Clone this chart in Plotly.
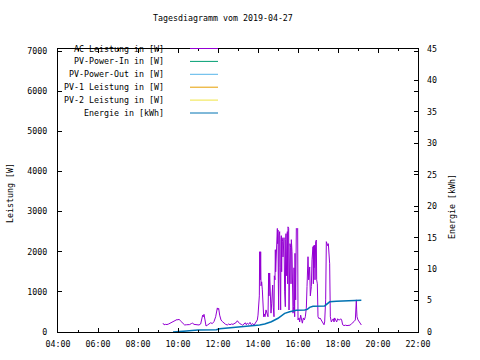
import plotly.graph_objects as go

DAY = "2019-04-27 "

# AC Leistung [W]
ac_times = ["09:15","09:18","09:22","09:27","09:32","09:37","09:42","09:47","09:52","09:57",
            "10:00","10:03","10:07","10:12","10:16","10:20","10:25","10:30","10:35","10:40",
            "10:44","10:48","10:53","10:58","11:03","11:08","11:11","11:14","11:16","11:18",
            "11:21","11:24","11:28","11:33","11:38","11:43","11:48","11:53","11:56","11:58",
            "12:00","12:02","12:05","12:09","12:13","12:18","12:23","12:28","12:32","12:36",
            "12:40","12:45","12:50","12:55","12:58","13:01","13:05","13:10","13:14","13:18",
            "13:22","13:25","13:28","13:32","13:36","13:40","13:44","13:48","13:52","13:55",
            "13:58","14:00","14:02","14:04","14:05","14:06","14:07","14:08","14:09","14:11",
            "14:13","14:15","14:17","14:19","14:21","14:24","14:27","14:30","14:32","14:33",
            "14:35","14:37","14:39","14:41","14:42","14:44","14:46","14:48","14:49","14:50",
            "14:51","14:52","14:53","14:55","14:56","14:58","14:59","15:00","15:01","15:02",
            "15:03","15:05","15:06","15:08","15:09","15:10","15:11","15:12","15:14","15:15",
            "15:16","15:18","15:20","15:22","15:23","15:24","15:25","15:26","15:28","15:29",
            "15:30","15:31","15:32","15:33","15:35","15:36","15:38","15:39","15:40","15:42",
            "15:44","15:45","15:47","15:48","15:50","15:51","15:53","15:55","15:57","15:59",
            "16:00","16:03","16:05","16:08","16:10","16:13","16:16","16:19","16:22","16:25",
            "16:27","16:29","16:30","16:32","16:35","16:37","16:40","16:42","16:44","16:45",
            "16:46","16:47","16:48","16:50","16:51","16:53","16:55","16:56","16:58","17:00",
            "17:03","17:06","17:09","17:12","17:15","17:18","17:20","17:23","17:25","17:27",
            "17:29","17:31","17:33","17:35","17:37","17:40","17:43","17:46","17:48","17:50",
            "17:53","17:56","17:59","18:02","18:05","18:08","18:11","18:14","18:18","18:22",
            "18:27","18:32","18:36","18:40","18:44","18:48","18:52","18:54","18:55","18:56",
            "18:57","19:00","19:03","19:06","19:10"]
ac_values = [220,180,190,185,200,220,240,260,290,310,
             300,320,280,230,190,175,180,175,185,210,
             220,190,180,170,175,200,330,420,380,440,
             300,150,170,190,230,210,260,380,520,600,
             560,590,420,300,260,220,190,175,200,180,
             200,190,210,240,280,250,210,190,170,200,
             230,180,220,190,240,180,210,170,220,250,
             300,420,620,900,2000,1750,1300,2000,1150,1250,
             1050,550,380,450,380,550,460,380,1470,900,
             1470,800,470,700,1170,1170,600,380,1400,2000,
             1300,2050,1500,2000,2300,2580,2200,2540,1200,550,
             2400,2500,1600,550,2300,2400,1500,2350,2250,1870,
             2300,2350,1000,630,2300,2450,1400,2400,2500,1200,
             2620,2600,2580,548,1800,2200,2100,1200,2300,2000,
             1000,470,630,1600,380,1960,800,2580,2560,2580,
             300,350,250,420,300,220,350,300,380,600,
             1130,1500,1875,1300,1620,900,1130,1800,2100,2125,
             1200,2150,1600,2165,1300,2250,2290,1300,1200,380,
             330,350,300,250,200,180,250,800,2250,2200,
             2150,2200,1710,1700,380,250,300,330,250,350,
             300,250,330,300,300,330,300,180,160,170,
             160,165,170,200,225,260,300,500,800,550,
             380,300,250,225,175]

# Energie [kWh]
en_times = ["09:45","10:20","10:25","11:00","11:55","12:05","12:25","13:05","13:45","14:05",
            "14:20","14:40","15:00","15:20","15:35","15:50","15:55","16:20","16:28","16:35",
            "16:45","17:20","17:25","17:35","17:55","18:30","19:10"]
en_values = [0.0,0.05,0.15,0.3,0.35,0.5,0.6,0.75,0.95,1.1,
             1.27,1.64,2.18,2.97,3.23,3.39,3.45,3.5,3.6,3.92,
             4.1,4.15,4.4,4.8,4.9,5.0,5.05]

# series without data on this day
pv_in_times, pv_in_values = [], []
pv_out_times, pv_out_values = [], []
pv1_times, pv1_values = [], []
pv2_times, pv2_values = [], []

series_names = ["AC Leistung in [W]", "PV-Power-In in [W]", "PV-Power-Out in [W]",
                "PV-1 Leistung in [W]", "PV-2 Leistung in [W]", "Energie in [kWh]"]
series_colors = ["#9400d3", "#009e73", "#56b4e9", "#e69f00", "#f0e442", "#0072b2"]

left_ticks = [0, 1000, 2000, 3000, 4000, 5000, 6000, 7000]
right_ticks = [0, 5, 10, 15, 20, 25, 30, 35, 40, 45]
x_ticks = ["04:00", "06:00", "08:00", "10:00", "12:00", "14:00", "16:00", "18:00", "20:00", "22:00"]

FONT = "DejaVu Sans Mono"
FS = 8.3

def ts(lst):
    return [DAY + t for t in lst]

fig = go.Figure()
data_sets = [(ac_times, ac_values, "y"), (pv_in_times, pv_in_values, "y"),
             (pv_out_times, pv_out_values, "y"), (pv1_times, pv1_values, "y"),
             (pv2_times, pv2_values, "y"), (en_times, en_values, "y2")]
for (tt, vv, ax), name, col in zip(data_sets, series_names, series_colors):
    fig.add_trace(go.Scatter(x=ts(tt), y=vv, mode="lines", name=name, yaxis=ax,
                             line=dict(color=col, width=1.5 if ax == "y2" else 1),
                             showlegend=False))

W, H = 480, 360
X0, X1, Y0, Y1 = 58, 418, 49, 332   # plot area in pixels
L, R, T, B = X0, W - X1, Y0, H - Y1
pw, ph = X1 - X0, Y1 - Y0

def px(x):
    return (x - X0) / pw

def py(y):
    return (Y1 - y) / ph

fig.update_layout(
    width=W, height=H,
    margin=dict(l=L, r=R, t=T, b=B, autoexpand=False),
    paper_bgcolor="white", plot_bgcolor="white",
    font=dict(family=FONT, size=FS, color="black"),
    xaxis=dict(type="date", range=[DAY + "04:00", DAY + "22:00"],
               tickvals=ts(x_ticks), ticktext=x_ticks,
               ticks="inside", ticklen=4, tickcolor="black",
               minor=dict(dtick=3600000, ticks="inside", ticklen=2, tickcolor="black"),
               showline=True, linecolor="black", linewidth=1, mirror="ticks",
               showgrid=False, zeroline=False, ticklabelstandoff=4),
    yaxis=dict(range=[0, 7050], tickvals=left_ticks,
               ticks="inside", ticklen=4, tickcolor="black",
               showline=True, linecolor="black", linewidth=1, mirror="ticks",
               showgrid=False, zeroline=False, ticklabelstandoff=8),
    yaxis2=dict(range=[0, 45], tickvals=right_ticks, overlaying="y", side="right",
                ticks="inside", ticklen=4, tickcolor="black",
                showline=False, showgrid=False, zeroline=False, ticklabelstandoff=8),
)

ann = [
    dict(text="Tagesdiagramm vom 2019-04-27", x=px(223), y=py(18), xanchor="center", yanchor="middle"),
    dict(text="Leistung [W]", x=px(10), y=py(193), textangle=-90, xanchor="center", yanchor="middle"),
    dict(text="Energie [kWh]", x=px(452), y=py(207), textangle=-90, xanchor="center", yanchor="middle"),
]
shapes = []
for i, (name, col) in enumerate(zip(series_names, series_colors)):
    yy = 48.5 + 12.9 * i
    ann.append(dict(text=name, x=px(166), y=py(yy), xanchor="right", yanchor="middle"))
    shapes.append(dict(type="line", xref="paper", yref="paper",
                       x0=px(190), x1=px(218), y0=py(yy), y1=py(yy),
                       line=dict(color=col, width=1)))
for a in ann:
    a.update(xref="paper", yref="paper", showarrow=False,
             font=dict(family=FONT, size=FS, color="black"))
fig.update_layout(annotations=ann, shapes=shapes)

# remove the page's default body margin so the figure fills the window exactly
fig.write_html("out.html",
               config={"displayModeBar": False},
               post_script="document.body.style.margin='0px';document.body.style.overflow='hidden';")
